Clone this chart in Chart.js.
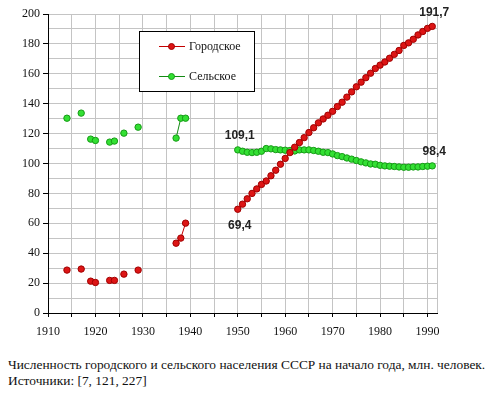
<!DOCTYPE html>
<html>
<head>
<meta charset="utf-8">
<script src="https://cdn.jsdelivr.net/npm/chart.js@4.4.1/dist/chart.umd.min.js"></script>
<style>
  body { margin: 0; background: #fff; }
  #wrap { position: relative; width: 492px; height: 393px; }
  #caption { position: absolute; left: 8px; top: 357px; font: 13.4px "Liberation Serif", "Times New Roman", serif; line-height: 16px; color: #111; white-space: nowrap; }
</style>
</head>
<body>
<div id="wrap">
  <canvas id="myChart" width="492" height="345"></canvas>
  <div id="caption">Численность городского и сельского населения СССР на начало года, млн. человек.<br>Источники: [7, 121, 227]</div>
</div>
<script>
const SERIF = '"Liberation Serif", "Times New Roman", serif';
Chart.defaults.font.family = SERIF;
Chart.defaults.font.size = 12;
Chart.defaults.color = '#111';

// years with data (gaps are left unconnected)
const years = [1914, 1917, 1919, 1920, 1923, 1924, 1926, 1929, 1937, 1938, 1939,
  1950, 1951, 1952, 1953, 1954, 1955, 1956, 1957, 1958, 1959,
  1960, 1961, 1962, 1963, 1964, 1965, 1966, 1967, 1968, 1969,
  1970, 1971, 1972, 1973, 1974, 1975, 1976, 1977, 1978, 1979,
  1980, 1981, 1982, 1983, 1984, 1985, 1986, 1987, 1988, 1989,
  1990, 1991];

const urban = [28.7, 29.4, 21.3, 20.4, 21.8, 21.8, 26.0, 28.7, 46.7, 50.1, 60.1,
  69.4, 72.8, 76.4, 80.0, 83.0, 86.0, 88.3, 91.8, 95.5, 99.5,
  103.4, 107.3, 110.9, 114.0, 117.3, 120.7, 123.9, 127.2, 129.8, 132.3,
  134.9, 138.1, 141.0, 144.4, 147.9, 151.3, 154.4, 157.4, 160.4, 163.5,
  165.8, 167.9, 170.4, 173.0, 175.6, 179.0, 180.7, 183.1, 186.0, 188.3,
  190.4, 191.7];

const rural = [130.3, 133.7, 116.3, 115.4, 114.3, 115.0, 120.3, 124.3, 117.0, 130.3, 130.3,
  109.1, 108.2, 107.5, 107.3, 107.5, 108.2, 110.0, 109.8, 109.3, 109.1,
  108.9, 108.7, 108.4, 109.1, 109.1, 109.1, 108.7, 108.2, 107.5, 107.3,
  106.4, 105.3, 104.6, 103.7, 102.9, 102.0, 101.1, 100.4, 99.7, 99.5,
  98.8, 98.4, 98.2, 98.0, 97.7, 97.5, 97.5, 97.7, 97.7, 98.0,
  98.2, 98.4];

const seriesNames = ['Городское', 'Сельское'];
const yTicks = [0, 20, 40, 60, 80, 100, 120, 140, 160, 180, 200];
const xTicks = [1910, 1920, 1930, 1940, 1950, 1960, 1970, 1980, 1990];

// value labels: [series index, year, text]
const valueLabels = [
  [1, 1950, '109,1'],
  [0, 1950, '69,4'],
  [0, 1991, '191,7'],
  [1, 1991, '98,4']
];

// insert null points where years are not consecutive, so lines break
function toPoints(vals) {
  const out = [];
  years.forEach((yr, i) => {
    if (i > 0 && yr - years[i - 1] > 1) out.push({x: yr - 1, y: null});
    out.push({x: yr, y: vals[i]});
  });
  return out;
}

const data = {
  datasets: [{
    label: seriesNames[0],
    data: toPoints(urban),
    borderColor: '#c40000',
    borderWidth: 1,
    backgroundColor: '#dd1515',
    pointBackgroundColor: '#dd1515',
    pointBorderColor: '#a00000',
    pointBorderWidth: 1,
    pointRadius: 3.2,
    spanGaps: false
  }, {
    label: seriesNames[1],
    data: toPoints(rural),
    borderColor: '#138a13',
    borderWidth: 1,
    backgroundColor: '#33e033',
    pointBackgroundColor: '#33e033',
    pointBorderColor: '#169a16',
    pointBorderWidth: 1,
    pointRadius: 3.2,
    spanGaps: false
  }]
};

// grey frame on the right side of the plot area
const frame = {
  id: 'frame',
  beforeDatasetsDraw(chart) {
    const a = chart.chartArea, ctx = chart.ctx;
    ctx.save();
    ctx.strokeStyle = '#c4c4c4';
    ctx.lineWidth = 1;
    ctx.beginPath();
    ctx.moveTo(Math.round(a.right) + 0.5, a.top);
    ctx.lineTo(Math.round(a.right) + 0.5, a.bottom);
    ctx.stroke();
    ctx.restore();
  }
};

const boxLegend = {
  id: 'boxLegend',
  afterDraw(chart) {
    const ctx = chart.ctx;
    ctx.save();
    ctx.fillStyle = '#fff';
    ctx.fillRect(139.5, 31.5, 115, 60);
    ctx.strokeStyle = '#000';
    ctx.lineWidth = 1;
    ctx.strokeRect(139.5, 31.5, 115, 60);
    const rows = [46.5, 76.5];
    chart.data.datasets.forEach((ds, i) => {
      const y = rows[i];
      ctx.strokeStyle = ds.borderColor;
      ctx.beginPath();
      ctx.moveTo(159, y);
      ctx.lineTo(185, y);
      ctx.stroke();
      ctx.fillStyle = ds.pointBackgroundColor;
      ctx.strokeStyle = ds.pointBorderColor;
      ctx.beginPath();
      ctx.arc(171.5, y, 3, 0, Math.PI * 2);
      ctx.fill();
      ctx.stroke();
      ctx.fillStyle = '#111';
      ctx.font = '12px ' + SERIF;
      ctx.textBaseline = 'middle';
      ctx.textAlign = 'left';
      ctx.fillText(ds.label, 189, y);
    });
    ctx.restore();
  }
};

const valueText = {
  id: 'valueText',
  afterDatasetsDraw(chart) {
    const ctx = chart.ctx;
    const xs = chart.scales.x, ys = chart.scales.y;
    ctx.save();
    ctx.font = 'bold 12px "Liberation Sans", Arial, sans-serif';
    ctx.fillStyle = '#222';
    ctx.textAlign = 'center';
    ctx.textBaseline = 'middle';
    valueLabels.forEach(([s, yr, txt]) => {
      const v = (s === 0 ? urban : rural)[years.indexOf(yr)];
      const px = xs.getPixelForValue(yr);
      const py = ys.getPixelForValue(v);
      const below = (s === 0 && yr === 1950);
      ctx.fillText(txt, px + 2, below ? py + 16 : py - 14);
    });
    ctx.restore();
  }
};

const config = {
  type: 'line',
  data: data,
  options: {
    responsive: false,
    animation: false,
    layout: {
      padding: {left: 0, right: 55, top: 14, bottom: 0}
    },
    plugins: {
      legend: { display: false },
      tooltip: { enabled: false }
    },
    scales: {
      x: {
        type: 'linear',
        min: 1910,
        max: 1992,
        afterFit: s => { s.height = 32; },
        ticks: {
          stepSize: 5,
          includeBounds: false,
          autoSkip: false,
          maxRotation: 0,
          padding: 8,
          color: '#111',
          callback: v => xTicks.includes(v) ? String(v) : ''
        },
        grid: {
          color: '#c4c4c4',
          tickLength: 4,
          tickColor: '#000'
        },
        border: { color: '#000', width: 1 }
      },
      y: {
        min: 0,
        max: 200,
        afterFit: s => { s.width = 48; },
        ticks: {
          stepSize: 10,
          autoSkip: false,
          padding: 3,
          color: '#111',
          callback: v => yTicks.includes(v) ? String(v) : ''
        },
        grid: {
          color: '#c4c4c4',
          tickLength: 5,
          tickColor: c => (c.tick && yTicks.includes(c.tick.value)) ? '#000' : 'rgba(0,0,0,0)'
        },
        border: { color: '#000', width: 1 }
      }
    }
  },
  plugins: [frame, valueText, boxLegend]
};

//Rendering
const myChart = new Chart(document.getElementById('myChart'), config);
</script>
</body>
</html>
